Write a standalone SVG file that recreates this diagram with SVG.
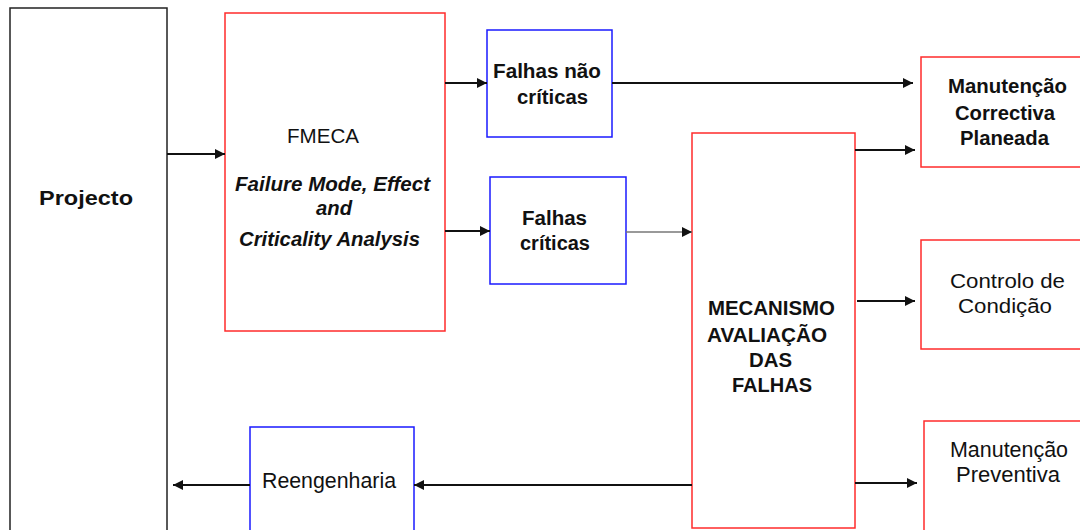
<svg xmlns="http://www.w3.org/2000/svg" width="1080" height="530" viewBox="0 0 1080 530">
  <style>
    .box { fill: #fff; stroke-width: 1.5; }
    .red { stroke: #ff2b2b; }
    .blue { stroke: #1a1aff; }
    .black { stroke: #222; }
    .t { font-family: "Liberation Sans", Arial, sans-serif; fill: #111; text-anchor: start; font-size: 20px; }
    .b { font-weight: bold; }
    .i { font-style: italic; font-weight: bold; }
    .n { font-size: 22px; }
    .conn line { stroke: #111; stroke-width: 2; }
  </style>
  <defs>
    <marker id="arr" viewBox="0 0 10 10" refX="10" refY="5" markerWidth="11" markerHeight="10" markerUnits="userSpaceOnUse" orient="auto">
      <path d="M0,0 L10,5 L0,10 z" fill="#111"/>
    </marker>
  </defs>
  <rect width="1080" height="530" fill="#fff"/>

  <g id="projecto">
    <rect class="box black" x="10" y="8" width="157" height="530"/>
    <text class="t b" x="39" y="205" font-size="24" textLength="94" lengthAdjust="spacingAndGlyphs">Projecto</text>
  </g>

  <g id="fmeca">
    <rect class="box red" x="225" y="13" width="220" height="318"/>
    <text class="t" x="287" y="143" textLength="72" lengthAdjust="spacingAndGlyphs">FMECA</text>
    <text class="t i" x="235" y="191" textLength="195" lengthAdjust="spacingAndGlyphs">Failure Mode, Effect</text>
    <text class="t i" x="316" y="215" textLength="36" lengthAdjust="spacingAndGlyphs">and</text>
    <text class="t i" x="239" y="246" textLength="181" lengthAdjust="spacingAndGlyphs">Criticality Analysis</text>
  </g>

  <g id="falhas-nao-criticas">
    <rect class="box blue" x="487" y="30" width="125" height="107"/>
    <text class="t b" x="493" y="78" textLength="108" lengthAdjust="spacingAndGlyphs">Falhas não</text>
    <text class="t b" x="517" y="104" textLength="71" lengthAdjust="spacingAndGlyphs">críticas</text>
  </g>

  <g id="falhas-criticas">
    <rect class="box blue" x="490" y="177" width="136" height="107"/>
    <text class="t b" x="522" y="225" textLength="65" lengthAdjust="spacingAndGlyphs">Falhas</text>
    <text class="t b" x="520" y="250" textLength="70" lengthAdjust="spacingAndGlyphs">críticas</text>
  </g>

  <g id="mecanismo">
    <rect class="box red" x="692" y="133" width="163" height="395"/>
    <text class="t b" x="708" y="315" textLength="127" lengthAdjust="spacingAndGlyphs">MECANISMO</text>
    <text class="t b" x="707" y="342" textLength="120" lengthAdjust="spacingAndGlyphs">AVALIAÇÃO</text>
    <text class="t b" x="749" y="367" textLength="43" lengthAdjust="spacingAndGlyphs">DAS</text>
    <text class="t b" x="732" y="392" textLength="80" lengthAdjust="spacingAndGlyphs">FALHAS</text>
  </g>

  <g id="manutencao-correctiva">
    <rect class="box red" x="921" y="57" width="170" height="110"/>
    <text class="t b" x="948" y="93" textLength="119" lengthAdjust="spacingAndGlyphs">Manutenção</text>
    <text class="t b" x="955" y="120" textLength="100" lengthAdjust="spacingAndGlyphs">Correctiva</text>
    <text class="t b" x="960" y="145" textLength="89" lengthAdjust="spacingAndGlyphs">Planeada</text>
  </g>

  <g id="controlo-condicao">
    <rect class="box red" x="921" y="240" width="170" height="109"/>
    <text class="t" x="950" y="288" textLength="115" lengthAdjust="spacingAndGlyphs">Controlo de</text>
    <text class="t" x="958" y="313" textLength="94" lengthAdjust="spacingAndGlyphs">Condição</text>
  </g>

  <g id="manutencao-preventiva">
    <rect class="box red" x="924" y="421" width="170" height="120"/>
    <text class="t n" x="950" y="457" textLength="118" lengthAdjust="spacingAndGlyphs">Manutenção</text>
    <text class="t n" x="956" y="482" textLength="104" lengthAdjust="spacingAndGlyphs">Preventiva</text>
  </g>

  <g id="reengenharia">
    <rect class="box blue" x="250" y="427" width="164" height="110"/>
    <text class="t n" x="262" y="488" textLength="134" lengthAdjust="spacingAndGlyphs">Reengenharia</text>
  </g>

  <g id="connectors" class="conn">
    <line x1="167" y1="154" x2="225" y2="154" marker-end="url(#arr)"/>
    <line x1="445" y1="83" x2="487" y2="83" marker-end="url(#arr)"/>
    <line x1="612" y1="83" x2="913" y2="83" marker-end="url(#arr)"/>
    <line x1="445" y1="231" x2="490" y2="231" marker-end="url(#arr)"/>
    <line x1="626" y1="232" x2="692" y2="232" marker-end="url(#arr)" style="stroke:#777;stroke-width:1.5"/>
    <line x1="855" y1="150" x2="915" y2="150" marker-end="url(#arr)"/>
    <line x1="857" y1="301" x2="915" y2="301" marker-end="url(#arr)"/>
    <line x1="855" y1="483" x2="917" y2="483" marker-end="url(#arr)"/>
    <line x1="692" y1="485" x2="414" y2="485" marker-end="url(#arr)"/>
    <line x1="250" y1="485" x2="173" y2="485" marker-end="url(#arr)"/>
  </g>
</svg>
